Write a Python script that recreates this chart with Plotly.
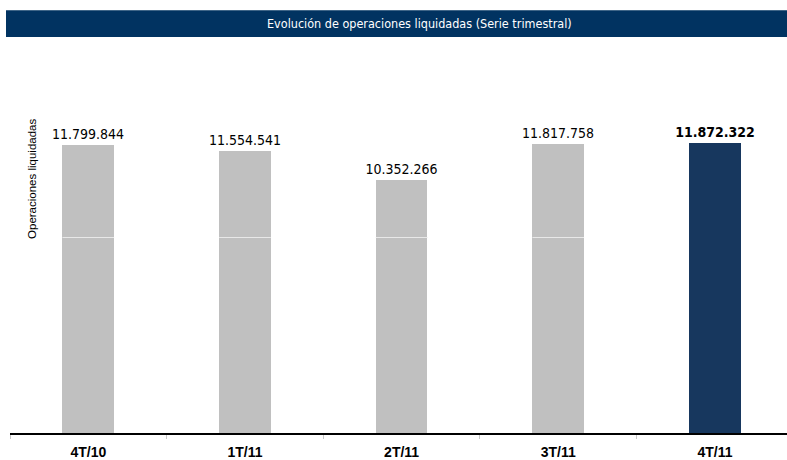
import plotly.graph_objects as go

categories = ["4T/10", "1T/11", "2T/11", "3T/11", "4T/11"]
values = [11799844, 11554541, 10352266, 11817758, 11872322]
labels = ["11.799.844", "11.554.541", "10.352.266", "11.817.758", "<b>11.872.322</b>"]
bar_colors = ["#c0c0c0", "#c0c0c0", "#c0c0c0", "#c0c0c0", "#17375e"]
title_text = "Evolución de operaciones liquidadas (Serie trimestral)"
y_title = "Operaciones liquidadas"
grid_value = 8000000
y_max = 16000000
bar_width = 0.33

fig = go.Figure()
fig.add_trace(go.Bar(
    x=categories, y=values, width=bar_width,
    marker=dict(color=bar_colors, line=dict(width=0)),
    text=labels, textposition="outside", cliponaxis=False, constraintext="none",
    textfont=dict(family="DejaVu Sans Condensed, Liberation Sans Narrow, sans-serif", size=14, color="#000000"),
    hoverinfo="skip",
))

# light grid segment visible over the grey bars
for i, (c, col) in enumerate(zip(categories, bar_colors)):
    if col == "#c0c0c0":
        fig.add_shape(type="line", xref="x", yref="y",
                      x0=i - bar_width / 2, x1=i + bar_width / 2,
                      y0=grid_value, y1=grid_value,
                      line=dict(color="#e8e8e8", width=1), layer="above")

# title band
fig.add_shape(type="rect", xref="paper", yref="paper",
              x0=-4 / 777, x1=1.01, y0=1 + 5 / 394, y1=1 + 32 / 394,
              fillcolor="#013361", line=dict(width=0), layer="above")
fig.add_annotation(text=title_text, xref="paper", yref="paper",
                   x=(419 - 10) / 777, y=1 + 18.5 / 394, showarrow=False,
                   xanchor="center", yanchor="middle",
                   font=dict(family="DejaVu Sans Condensed, Liberation Sans Narrow, sans-serif", size=12.5, color="#ffffff"))
fig.add_annotation(text=y_title, xref="paper", yref="paper",
                   x=22 / 777, y=(436 - 180) / 394, showarrow=False, textangle=-90,
                   xanchor="center", yanchor="middle",
                   font=dict(family="Liberation Sans, Arial, sans-serif", size=11.5, color="#000000"))

fig.update_layout(
    width=787, height=460,
    margin=dict(l=10, r=0, t=42, b=24),
    paper_bgcolor="#ffffff", plot_bgcolor="#ffffff",
    showlegend=False, bargap=0,
    xaxis=dict(type="category", range=[-0.5, 4.46], showline=True, linecolor="#000000", linewidth=1.5,
               ticks="outside", tickson="boundaries", ticklen=4, tickcolor="#c8c8c8",
               ticklabelstandoff=5,
               tickfont=dict(family="Liberation Sans, Arial, sans-serif", size=14, color="#000000"),
               showgrid=False),
    yaxis=dict(range=[0, y_max], showticklabels=False, showgrid=False, zeroline=False,
               showline=False, dtick=grid_value),
)
fig.update_xaxes(ticktext=["<b>%s</b>" % c for c in categories], tickvals=categories)

fig.write_html("out.html", config={"displayModeBar": False},
               post_script="document.body.style.margin='0';document.body.style.overflow='hidden';")
